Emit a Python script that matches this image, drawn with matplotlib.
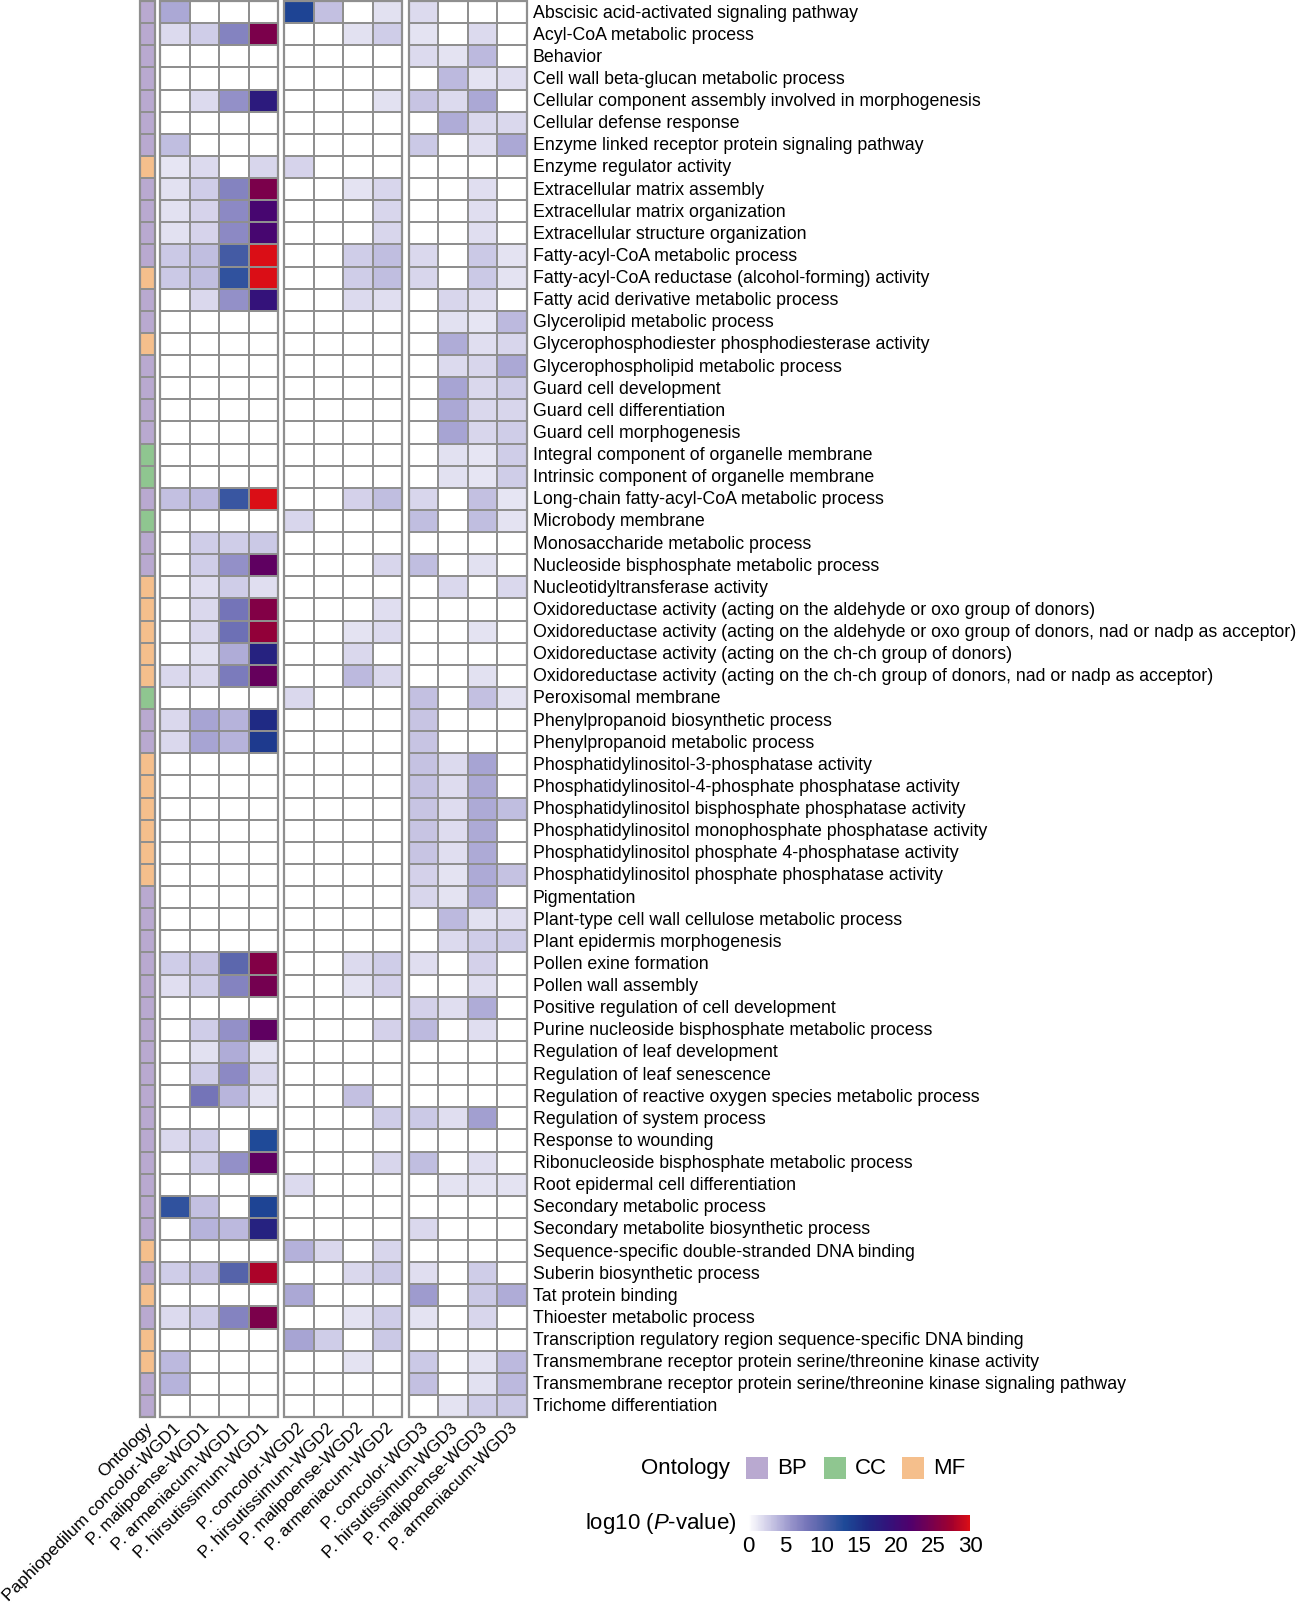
import numpy as np
import matplotlib
matplotlib.use("Agg")
import matplotlib.pyplot as plt
from matplotlib.colors import LinearSegmentedColormap, ListedColormap, Normalize
from matplotlib.patches import Rectangle
from matplotlib.cm import ScalarMappable

plt.rcParams['font.family'] = ['Liberation Sans', 'DejaVu Sans']
plt.rcParams['mathtext.fontset'] = 'custom'
plt.rcParams['mathtext.it'] = 'Liberation Sans:italic'
plt.rcParams['mathtext.rm'] = 'Liberation Sans'

terms = [
    "Abscisic acid-activated signaling pathway",
    "Acyl-CoA metabolic process",
    "Behavior",
    "Cell wall beta-glucan metabolic process",
    "Cellular component assembly involved in morphogenesis",
    "Cellular defense response",
    "Enzyme linked receptor protein signaling pathway",
    "Enzyme regulator activity",
    "Extracellular matrix assembly",
    "Extracellular matrix organization",
    "Extracellular structure organization",
    "Fatty-acyl-CoA metabolic process",
    "Fatty-acyl-CoA reductase (alcohol-forming) activity",
    "Fatty acid derivative metabolic process",
    "Glycerolipid metabolic process",
    "Glycerophosphodiester phosphodiesterase activity",
    "Glycerophospholipid metabolic process",
    "Guard cell development",
    "Guard cell differentiation",
    "Guard cell morphogenesis",
    "Integral component of organelle membrane",
    "Intrinsic component of organelle membrane",
    "Long-chain fatty-acyl-CoA metabolic process",
    "Microbody membrane",
    "Monosaccharide metabolic process",
    "Nucleoside bisphosphate metabolic process",
    "Nucleotidyltransferase activity",
    "Oxidoreductase activity (acting on the aldehyde or oxo group of donors)",
    "Oxidoreductase activity (acting on the aldehyde or oxo group of donors, nad or nadp as acceptor)",
    "Oxidoreductase activity (acting on the ch-ch group of donors)",
    "Oxidoreductase activity (acting on the ch-ch group of donors, nad or nadp as acceptor)",
    "Peroxisomal membrane",
    "Phenylpropanoid biosynthetic process",
    "Phenylpropanoid metabolic process",
    "Phosphatidylinositol-3-phosphatase activity",
    "Phosphatidylinositol-4-phosphate phosphatase activity",
    "Phosphatidylinositol bisphosphate phosphatase activity",
    "Phosphatidylinositol monophosphate phosphatase activity",
    "Phosphatidylinositol phosphate 4-phosphatase activity",
    "Phosphatidylinositol phosphate phosphatase activity",
    "Pigmentation",
    "Plant-type cell wall cellulose metabolic process",
    "Plant epidermis morphogenesis",
    "Pollen exine formation",
    "Pollen wall assembly",
    "Positive regulation of cell development",
    "Purine nucleoside bisphosphate metabolic process",
    "Regulation of leaf development",
    "Regulation of leaf senescence",
    "Regulation of reactive oxygen species metabolic process",
    "Regulation of system process",
    "Response to wounding",
    "Ribonucleoside bisphosphate metabolic process",
    "Root epidermal cell differentiation",
    "Secondary metabolic process",
    "Secondary metabolite biosynthetic process",
    "Sequence-specific double-stranded DNA binding",
    "Suberin biosynthetic process",
    "Tat protein binding",
    "Thioester metabolic process",
    "Transcription regulatory region sequence-specific DNA binding",
    "Transmembrane receptor protein serine/threonine kinase activity",
    "Transmembrane receptor protein serine/threonine kinase signaling pathway",
    "Trichome differentiation",
]

ontology = (["BP"] * 7 + ["MF"] + ["BP"] * 4 + ["MF"] + ["BP"] * 2 + ["MF"] + ["BP"] * 4
            + ["CC", "CC", "BP", "CC", "BP", "BP"] + ["MF"] * 5 + ["CC", "BP", "BP"]
            + ["MF"] * 6 + ["BP"] * 16 + ["MF", "BP", "MF", "BP", "MF", "MF", "BP", "BP"])

col_labels = ["Paphiopedilum concolor-WGD1", "P. malipoense-WGD1", "P. armeniacum-WGD1",
              "P. hirsutissimum-WGD1",
              "P. concolor-WGD2", "P. hirsutissimum-WGD2", "P. malipoense-WGD2",
              "P. armeniacum-WGD2",
              "P. concolor-WGD3", "P. hirsutissimum-WGD3", "P. malipoense-WGD3",
              "P. armeniacum-WGD3"]

Z = [0, 0, 0, 0]
wgd1 = [
    [4.7, 0, 0, 0], [2.0, 2.8, 7, 25], Z, Z, [0, 2.0, 6, 18], Z, [3.6, 0, 0, 0],
    [1.5, 2.0, 0, 2.3], [1.7, 2.7, 7, 25], [1.7, 2.4, 6.5, 21], [1.7, 2.4, 6.5, 21],
    [3.0, 3.6, 11, 30], [3.0, 3.6, 12, 30], [0, 2.2, 6, 19], Z, Z, Z, Z, Z, Z, Z, Z,
    [3.5, 3.8, 11.5, 30], Z, [0, 2.8, 2.8, 3.0], [0, 2.8, 6, 23], [0, 1.8, 2.8, 1.8],
    [0, 2.2, 8, 25.5], [0, 2.2, 8.5, 26.5], [0, 1.7, 4.5, 17], [2.2, 2.2, 7.5, 23.5], Z,
    [2.2, 5, 4.2, 16], [2.2, 5, 4.2, 14.5], Z, Z, Z, Z, Z, Z, Z, Z, Z,
    [2.7, 3.2, 9.5, 25.5], [1.8, 2.8, 7, 24.5], Z, [0, 2.8, 6, 23], [0, 1.7, 4.5, 1.6],
    [0, 2.8, 6.5, 2.2], [0, 8, 4, 1.6], Z, [2.2, 2.8, 0, 13], [0, 2.7, 6, 23], Z,
    [12, 3.5, 0, 13.5], [0, 4.2, 3.8, 17], Z, [2.8, 3.5, 10, 28], Z, [2.0, 2.8, 7, 25],
    Z, [3.8, 0, 0, 0], [4.2, 0, 0, 0], Z,
]
wgd2 = [
    [13.5, 3.5, 0, 1.7], [0, 0, 1.7, 2.7], Z, Z, [0, 0, 0, 1.7], Z, Z,
    [2.4, 0, 0, 0], [0, 0, 1.6, 2.3], [0, 0, 0, 2.3], [0, 0, 0, 2.3],
    [0, 0, 2.8, 3.6], [0, 0, 2.8, 3.6], [0, 0, 2.0, 1.8], Z, Z, Z, Z, Z, Z, Z, Z,
    [0, 0, 2.5, 3.6], [2.3, 0, 0, 0], Z, [0, 0, 0, 2.3], Z,
    [0, 0, 0, 1.8], [0, 0, 1.6, 2.0], [0, 0, 2.2, 0], [0, 0, 3.8, 2.2], [2.2, 0, 0, 0],
    Z, Z, Z, Z, Z, Z, Z, Z, Z, Z, Z,
    [0, 0, 2.0, 2.7], [0, 0, 1.6, 2.5], Z, [0, 0, 0, 2.5], Z,
    Z, [0, 0, 3.5, 0], [0, 0, 0, 2.8], Z, [0, 0, 0, 2.3], [2.0, 0, 0, 0],
    Z, Z, [4.3, 2.2, 0, 2.3], [0, 0, 2.2, 3.0], [4.8, 0, 0, 0], [0, 0, 1.6, 2.8],
    [5.0, 2.8, 0, 3.0], [0, 0, 1.6, 0], Z, Z,
]
wgd3 = [
    [2.0, 0, 0, 0], [1.6, 0, 2.0, 0], [2.0, 1.6, 3.8, 0], [0, 3.8, 1.6, 1.8],
    [3.2, 2.0, 4.8, 0], [0, 4.5, 2.2, 2.2], [3.0, 0, 1.8, 4.8],
    Z, [0, 0, 1.8, 0], [0, 0, 1.8, 0], [0, 0, 1.8, 0],
    [2.2, 0, 3.0, 1.6], [2.3, 0, 3.0, 1.6], [0, 2.3, 1.8, 0], [0, 1.7, 1.5, 3.8],
    [0, 4.5, 1.8, 2.3], [0, 2.0, 2.3, 4.8], [0, 5.0, 2.2, 2.7], [0, 4.8, 2.2, 2.3],
    [0, 5.0, 2.3, 2.8], [0, 1.7, 1.5, 2.8], [0, 1.7, 1.5, 2.8],
    [2.3, 0, 3.4, 1.5], [3.6, 0, 3.6, 1.6], Z, [3.6, 0, 1.7, 0], [0, 2.2, 0, 2.2],
    Z, [0, 0, 1.6, 0], Z, [0, 0, 1.7, 0], [3.5, 0, 3.5, 1.6],
    [3.2, 0, 0, 0], [3.2, 0, 0, 0], [3.3, 2.0, 5.0, 0], [3.3, 1.9, 4.6, 0],
    [3.2, 1.9, 4.6, 3.6], [3.2, 1.9, 4.6, 0], [3.2, 1.8, 4.6, 0], [2.5, 1.6, 4.6, 3.3],
    [2.3, 1.6, 4.3, 0], [0, 3.8, 1.7, 1.8], [0, 2.0, 2.8, 2.8],
    [1.8, 0, 2.5, 0], [0, 0, 1.8, 0], [2.5, 1.8, 4.5, 0], [3.8, 0, 1.8, 0], Z,
    Z, Z, [3.0, 1.8, 5.2, 0], Z, [3.6, 0, 1.8, 0], [0, 1.6, 1.6, 1.6],
    Z, [2.2, 0, 0, 0], Z, [1.8, 0, 2.8, 0], [5.5, 0, 3.0, 4.5], [1.6, 0, 2.3, 0],
    Z, [3.0, 0, 1.6, 3.8], [3.5, 0, 1.7, 3.8], [0, 1.6, 2.8, 3.0],
]

onto_colors = {"BP": "#b9a9d0", "CC": "#8fc690", "MF": "#f5bf8c"}
onto_names = ["BP", "CC", "MF"]

# ---------------- colormap ----------------
stops = [(0, "#ffffff"), (2, "#dcdaee"), (4, "#b8b5dc"), (6, "#9390c8"), (8, "#7474b8"),
         (10, "#5563aa"), (13, "#1e4a98"), (16, "#1f2a84"), (19, "#33127a"),
         (22, "#50006c"), (25, "#7a004c"), (27.5, "#a0002e"), (30, "#da0e16")]
cmap = LinearSegmentedColormap.from_list("pv", [(v / 30, c) for v, c in stops])
norm = Normalize(0, 30)

W, H = 1300, 1608
fig = plt.figure(figsize=(W / 100, H / 100), dpi=100)

n = len(terms)
left_px, right_px, top_px, bot_px = 140, 526.5, 2, 1418
onto_w, gap0, gap = 0.52, 0.17, 0.21
g_starts = [onto_w + gap0, onto_w + gap0 + 4 + gap, onto_w + gap0 + 8 + 2 * gap]
xmax = g_starts[2] + 4
ax = fig.add_axes([left_px / W, 1 - bot_px / H, (right_px - left_px) / W, (bot_px - top_px) / H])
ax.set_xlim(0, xmax)
ax.set_ylim(n, 0)
ax.axis("off")

edge = "#8f8f8f"
ye = np.arange(n + 1)

# ontology column
ocode = np.array([[onto_names.index(o)] for o in ontology])
ax.pcolormesh([0, onto_w], ye, ocode, cmap=ListedColormap([onto_colors[k] for k in onto_names]),
              vmin=-0.5, vmax=2.5, edgecolors=edge, linewidth=1.3)
ax.add_patch(Rectangle((0, 0), onto_w, n, fill=False, ec=edge, lw=1.6, clip_on=False))

for gi, data in enumerate([wgd1, wgd2, wgd3]):
    arr = np.array(data, dtype=float)
    xe = g_starts[gi] + np.arange(5)
    ax.pcolormesh(xe, ye, arr, cmap=cmap, norm=norm, edgecolors=edge, linewidth=1.3)
    ax.add_patch(Rectangle((g_starts[gi], 0), 4, n, fill=False, ec=edge, lw=1.6, clip_on=False))

# row labels
for i, t in enumerate(terms):
    ax.text(xmax + 0.22, i + 0.5, t, ha="left", va="center", fontsize=12.75, clip_on=False)

# column labels
col_x = [onto_w / 2] + [g_starts[g] + c + 0.5 for g in range(3) for c in range(4)]
labels = ["Ontology"] + col_labels
for x, lab in zip(col_x, labels):
    ax.text(x + 0.1, n + 0.35, lab, rotation=45, rotation_mode="anchor", ha="right",
            va="center", fontsize=12.5, clip_on=False)

# ---------------- ontology legend ----------------
ly = 1469
fig.text(730 / W, 1 - ly / H, "Ontology", ha="right", va="center", fontsize=16)
for k, bx in zip(onto_names, [746, 824, 902]):
    fig.add_artist(Rectangle((bx / W, 1 - (ly + 11) / H), 22 / W, 22 / H,
                             transform=fig.transFigure, fc=onto_colors[k], ec="none"))
    fig.text((bx + 31) / W, 1 - ly / H, k, ha="left", va="center", fontsize=16)

# ---------------- colorbar ----------------
cax = fig.add_axes([748 / W, 1 - 1532 / H, 222 / W, 16 / H])
cb = fig.colorbar(ScalarMappable(norm=norm, cmap=cmap), cax=cax, orientation="horizontal",
                  ticks=[0, 5, 10, 15, 20, 25, 30])
cb.outline.set_visible(False)
cax.tick_params(length=0, labelsize=16, pad=3)
fig.text(736 / W, 1 - 1524 / H, r"log10 ($\mathit{P}$-value)", ha="right", va="center",
         fontsize=16)

fig.savefig("out.png", dpi=100)
